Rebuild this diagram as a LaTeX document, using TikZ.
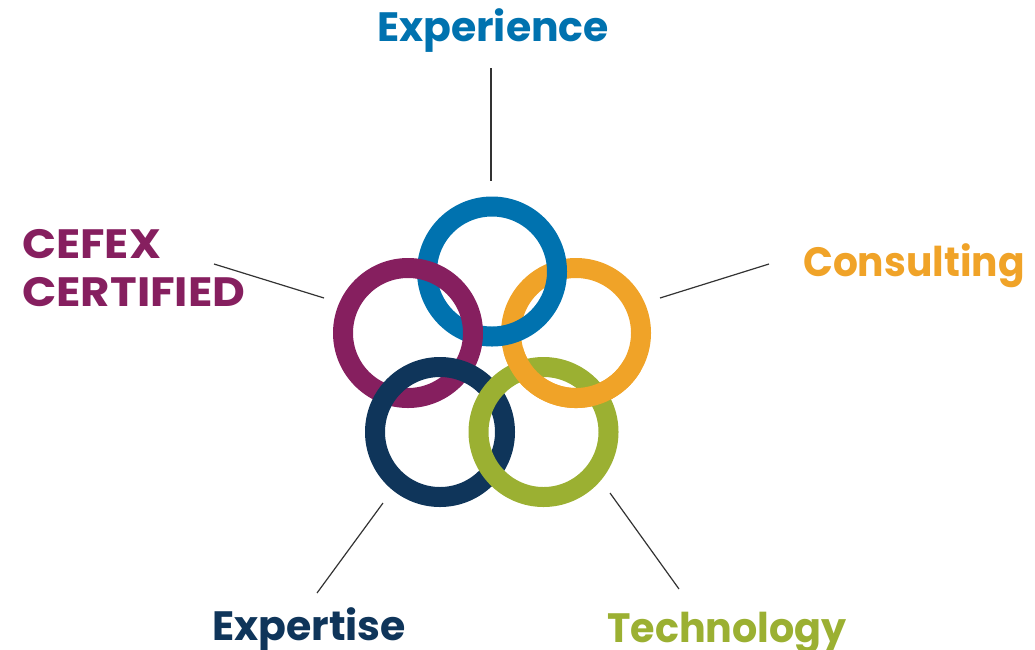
\documentclass[tikz,border=0pt]{standalone}
\usepackage{fontspec}
\newfontfamily\pop{Poppins}
\definecolor{cblue}{RGB}{0,114,175}
\definecolor{corange}{RGB}{240,163,40}
\definecolor{cpurple}{RGB}{134,31,95}
\definecolor{cnavy}{RGB}{15,53,90}
\definecolor{cgreen}{RGB}{155,176,50}
\tikzset{
  ring/.style={line width=20pt},
  lbl/.style={inner sep=0pt, font=\pop\bfseries\fontsize{41}{48}\selectfont},
  lead/.style={line width=1.2pt, draw=black!80}
}
\begin{document}
\begin{tikzpicture}[x=1pt,y=-1pt]
\useasboundingbox (0,0) rectangle (1035,649);
% rings
\coordinate (rb) at (492,271.5);
\coordinate (ro) at (576,333);
\coordinate (rp) at (408,333);
\coordinate (rn) at (440,432);
\coordinate (rg) at (543.5,432);
\draw[ring, corange] (ro) circle[radius=65];
\draw[ring, cblue] (rb) circle[radius=65];
\draw[ring, cpurple] (rp) circle[radius=65];
\draw[ring, cnavy] (rn) circle[radius=65];
\draw[ring, cgreen] (rg) circle[radius=65];
\draw[ring, corange] (ro) ++(30:65) arc[start angle=30, end angle=165, radius=65];
% labels
\node[lbl, text=cblue, anchor=base] (exp) at (493,41) {Experience};
\node[lbl, text=corange, anchor=base west] (con) at (803,276) {\scalebox{0.955}[1]{Consulting}};
\node[lbl, text=cpurple, anchor=base west] (cef) at (22,258) {\scalebox{1.09}[1]{CEFEX}};
\node[lbl, text=cpurple, anchor=base west] (cer) at (22,306) {\scalebox{1.1}[1]{CERTIFIED}};
\node[lbl, text=cnavy, anchor=base west] (ext) at (212,640) {Expertise};
\node[lbl, text=cgreen, anchor=base west] (tec) at (607,642) {\scalebox{0.967}[1]{Technology}};
% leader lines
\coordinate (a1) at (491,68);  \coordinate (a2) at (491,181);
\coordinate (b1) at (769,264); \coordinate (b2) at (660,298);
\coordinate (c1) at (214,264); \coordinate (c2) at (324,298);
\coordinate (d1) at (383,503); \coordinate (d2) at (317,593);
\coordinate (e1) at (610,493); \coordinate (e2) at (679,589);
\draw[lead] (a1) -- (a2);
\draw[lead] (b1) -- (b2);
\draw[lead] (c1) -- (c2);
\draw[lead] (d1) -- (d2);
\draw[lead] (e1) -- (e2);
\end{tikzpicture}
\end{document}
